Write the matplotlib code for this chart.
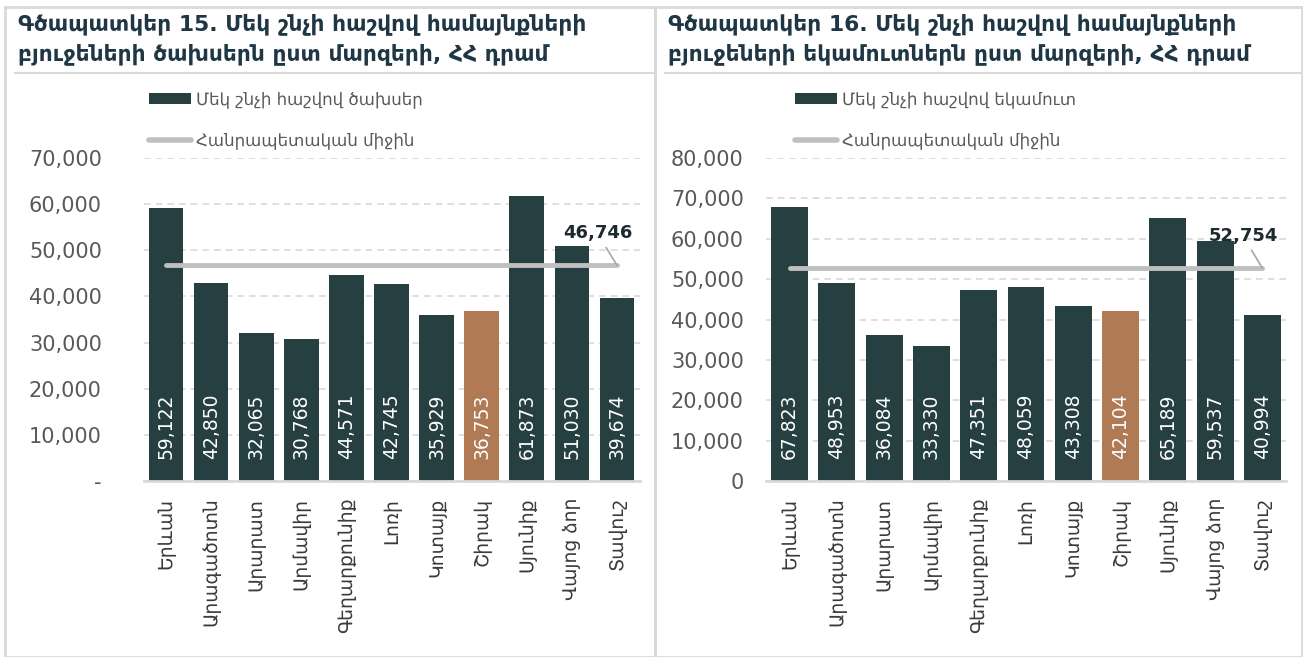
import numpy as np
import matplotlib
matplotlib.use("Agg")
import matplotlib.pyplot as plt
from matplotlib.patches import Rectangle, Patch
from matplotlib.lines import Line2D
from matplotlib.ticker import FuncFormatter

plt.rcParams['font.family'] = ['DejaVu Sans']

# Data
regions = ["Երևան", "Արագածոտն", "Արարատ", "Արմավիր", "Գեղարքունիք", "Լոռի",
           "Կոտայք", "Շիրակ", "Սյունիք", "Վայոց ձոր", "Տավուշ"]
expenses = [59122, 42850, 32065, 30768, 44571, 42745, 35929, 36753, 61873, 51030, 39674]
revenues = [67823, 48953, 36084, 33330, 47351, 48059, 43308, 42104, 65189, 59537, 40994]
mean_expenses = 46746
mean_revenues = 52754
highlight = "Շիրակ"

title_left = "Գծապատկեր 15. Մեկ շնչի հաշվով համայնքների\nբյուջեների ծախսերն ըստ մարզերի, ՀՀ դրամ"
title_right = "Գծապատկեր 16. Մեկ շնչի հաշվով համայնքների\nբյուջեների եկամուտներն ըստ մարզերի, ՀՀ դրամ"
legend_left = "Մեկ շնչի հաշվով ծախսեր"
legend_right = "Մեկ շնչի հաշվով եկամուտ"
legend_mean = "Հանրապետական միջին"

DARK = "#263F41"
BROWN = "#B07A55"
GRAY_LINE = "#BFBFBF"
GRID = "#D9D9D9"
TITLE_C = "#1F3744"
TEXT_C = "#595959"

W, H = 1303, 657
fig = plt.figure(figsize=(W / 100, H / 100), dpi=100)


def box(x0, y0, x1, y1):
    return [x0 / W, 1 - y1 / H, (x1 - x0) / W, (y1 - y0) / H]


# panel frames
for x0, x1 in [(5, 655), (655, 1302)]:
    fig.add_artist(Rectangle((x0 / W, 0), (x1 - x0) / W, 1 - 7 / H,
                             transform=fig.transFigure, fill=False,
                             edgecolor=GRID, lw=2))
fig.add_artist(Line2D([15 / W, 655 / W], [1 - 73 / H] * 2, color=GRID, lw=1.5,
                      transform=fig.transFigure))
fig.add_artist(Line2D([665 / W, 1302 / W], [1 - 73 / H] * 2, color=GRID, lw=1.5,
                      transform=fig.transFigure))


def draw(ax, values, mean, ymax, pad, zero_label, title, tx, leg_label, leg_x, width):
    x = np.arange(len(regions))
    colors = [BROWN if r == highlight else DARK for r in regions]
    ax.bar(x, values, width=width, color=colors, zorder=2)
    for xi, v in zip(x, values):
        ax.annotate(f"{v:,}", xy=(xi, 0), xytext=(0, 16), textcoords="offset points",
                    rotation=90, ha="center", va="bottom", color="white", fontsize=13.5)
    ax.plot([x[0], x[-1]], [mean, mean], color=GRAY_LINE, lw=3.5,
            solid_capstyle="round", zorder=3)
    ax.annotate(f"{mean:,}", xy=(x[-1], mean), xytext=(-14, 23), textcoords="offset points",
                ha="center", va="center", fontsize=13, fontweight="bold", color="#1E2B2E",
                arrowprops=dict(arrowstyle="-", color="#A6A6A6", lw=1.2, shrinkA=2, shrinkB=0))
    ax.set_xlim(-0.5, len(regions) - 0.5)
    ax.set_ylim(0, ymax)
    ax.set_yticks(np.arange(0, ymax + 1, 10000))
    ax.yaxis.set_major_formatter(FuncFormatter(lambda v, p: zero_label if v == 0 else f"{int(v):,}"))
    ax.grid(axis="y", color=GRID, ls=(0, (4, 3)), lw=1.2, zorder=0)
    ax.set_axisbelow(True)
    for s in ["top", "right", "left"]:
        ax.spines[s].set_visible(False)
    ax.spines["bottom"].set_color(GRID)
    ax.spines["bottom"].set_linewidth(2)
    ax.set_xticks(x)
    ax.set_xticklabels(regions, rotation=90, fontsize=13.5, color="#3A3A3A")
    ax.tick_params(axis="x", length=0, pad=12)
    ax.tick_params(axis="y", length=0, pad=pad, labelsize=15, labelcolor=TEXT_C)
    fig.text(tx / W, 1 - 39 / H, title, fontsize=15.7, fontweight="bold", color=TITLE_C,
             va="center", ha="left", linespacing=1.5)
    handles = [Patch(facecolor=DARK), Line2D([0], [0], color=GRAY_LINE, lw=4, solid_capstyle="round")]
    ax.legend(handles, [leg_label, legend_mean], loc="upper left", frameon=False,
              bbox_to_anchor=(leg_x / W, 1 - 82 / H), bbox_transform=fig.transFigure,
              fontsize=12, handlelength=2.5, handleheight=0.7, handletextpad=0.3,
              labelspacing=1.4, labelcolor=TEXT_C, borderpad=0)


ax1 = fig.add_axes(box(143.5, 158, 639.5, 481))
draw(ax1, expenses, mean_expenses, 70000, 30, "-", title_left, 18, legend_left, 141, 0.77)

ax2 = fig.add_axes(box(766, 158, 1286, 481))
draw(ax2, revenues, mean_revenues, 80000, 16, "0", title_right, 668, legend_right, 787, 0.78)

fig.savefig("out.png", dpi=100)
